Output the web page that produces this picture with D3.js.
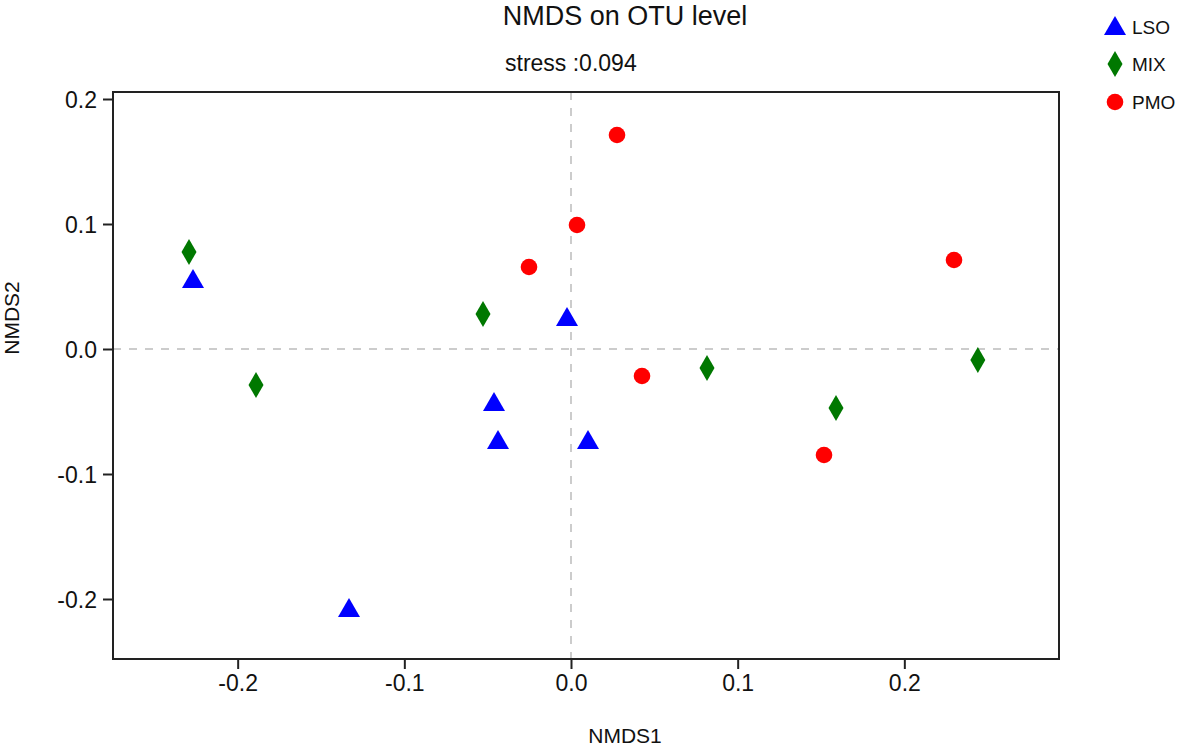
<!DOCTYPE html>
<html>
<head>
<meta charset="utf-8">
<script src="https://d3js.org/d3.v7.min.js"></script>
<style>
body { margin: 0; background: #fff; }
svg { display: block; font-family: "Liberation Sans", Arial, Helvetica, sans-serif; }
</style>
</head>
<body>
<svg id="chart" width="1181" height="746"></svg>
<script>
const groups = ["LSO", "MIX", "PMO"];
const groupColors = ["#0000ff", "#007800", "#ff0000"];
const lsoX = [-0.2268, -0.1332, -0.0462, -0.0438, -0.0024, 0.0102];
const lsoY = [0.0552, -0.2080, -0.0432, -0.0736, 0.0248, -0.0736];
const mixX = [-0.2292, -0.1890, -0.0528, 0.0816, 0.1590, 0.2441];
const mixY = [0.0776, -0.0288, 0.0280, -0.0152, -0.0472, -0.0088];
const pmoX = [0.0276, 0.0036, -0.0252, 0.0426, 0.1518, 0.2298];
const pmoY = [0.1712, 0.0992, 0.0656, -0.0216, -0.0848, 0.0712];
const xTicks = [-0.2, -0.1, 0.0, 0.1, 0.2];
const yTicks = [-0.2, -0.1, 0.0, 0.1, 0.2];
const titleText = "NMDS on OTU level";
const stressText = "stress :0.094";

const svg = d3.select("#chart");
const L = 113, R = 1059, T = 92, B = 659;
const x = d3.scaleLinear().domain([-0.2748, 0.2928]).range([L, R]);
const y = d3.scaleLinear().domain([-0.248, 0.2056]).range([B, T]);

// dashed zero lines
svg.append("line").attr("x1", L).attr("x2", R).attr("y1", y(0)).attr("y2", y(0))
  .attr("stroke", "#cccccc").attr("stroke-width", 2).attr("stroke-dasharray", "8,8");
svg.append("line").attr("x1", x(0)).attr("x2", x(0)).attr("y1", T).attr("y2", B)
  .attr("stroke", "#cccccc").attr("stroke-width", 2).attr("stroke-dasharray", "8,8");

// axes
const fmt = v => d3.format(".1f")(v).replace("\u2212", "-");
const xAxis = svg.append("g").attr("transform", `translate(0,${B})`)
  .call(d3.axisBottom(x).tickValues(xTicks).tickFormat(fmt).tickSize(10).tickPadding(6).tickSizeOuter(0));
const yAxis = svg.append("g").attr("transform", `translate(${L},0)`)
  .call(d3.axisLeft(y).tickValues(yTicks).tickFormat(fmt).tickSize(10).tickPadding(6).tickSizeOuter(0));
[xAxis, yAxis].forEach(a => {
  a.select(".domain").remove();
  a.selectAll(".tick line").attr("stroke", "#222").attr("stroke-width", 2);
  a.selectAll(".tick text").attr("fill", "#111").style("font-size", "23px")
    .style("font-family", "'Liberation Sans', Arial, sans-serif");
});
yAxis.selectAll(".tick text").attr("dy", "0.36em");

// frame
svg.append("rect").attr("x", L).attr("y", T).attr("width", R - L).attr("height", B - T)
  .attr("fill", "none").attr("stroke", "#222").attr("stroke-width", 2);

// markers
function marker(sel, gi) {
  if (gi === 0) {
    sel.append("path").attr("d", "M0,-11 L11,8 L-11,8 Z").attr("fill", groupColors[0]);
  } else if (gi === 1) {
    sel.append("path").attr("d", "M0,-13 L7.5,0 L0,13 L-7.5,0 Z").attr("fill", groupColors[1]);
  } else {
    sel.append("circle").attr("r", 8.3).attr("fill", groupColors[2]);
  }
}
const series = [[lsoX, lsoY], [mixX, mixY], [pmoX, pmoY]];
series.forEach(([xs, ys], gi) => {
  xs.forEach((xv, i) => {
    const g = svg.append("g").attr("transform", `translate(${x(xv)},${y(ys[i])})`);
    marker(g, gi);
  });
});

// titles
svg.append("text").attr("x", 625).attr("y", 25).attr("text-anchor", "middle")
  .style("font-size", "27px").attr("fill", "#111").text(titleText);
svg.append("text").attr("x", 505).attr("y", 71).attr("text-anchor", "start")
  .style("font-size", "23px").attr("fill", "#111").text(stressText);
svg.append("text").attr("x", 625).attr("y", 743).attr("text-anchor", "middle")
  .style("font-size", "21px").attr("fill", "#111").text("NMDS1");
svg.append("text").attr("transform", "translate(19,318) rotate(-90)").attr("text-anchor", "middle")
  .style("font-size", "21px").attr("fill", "#111").text("NMDS2");

// legend
const legY = [27, 64, 102];
groups.forEach((gname, gi) => {
  const g = svg.append("g").attr("transform", `translate(1115,${legY[gi]})`);
  marker(g, gi);
  svg.append("text").attr("x", 1132).attr("y", legY[gi]).attr("dy", "0.36em")
    .style("font-size", "19px").attr("fill", "#111").text(gname);
});
</script>
</body>
</html>
